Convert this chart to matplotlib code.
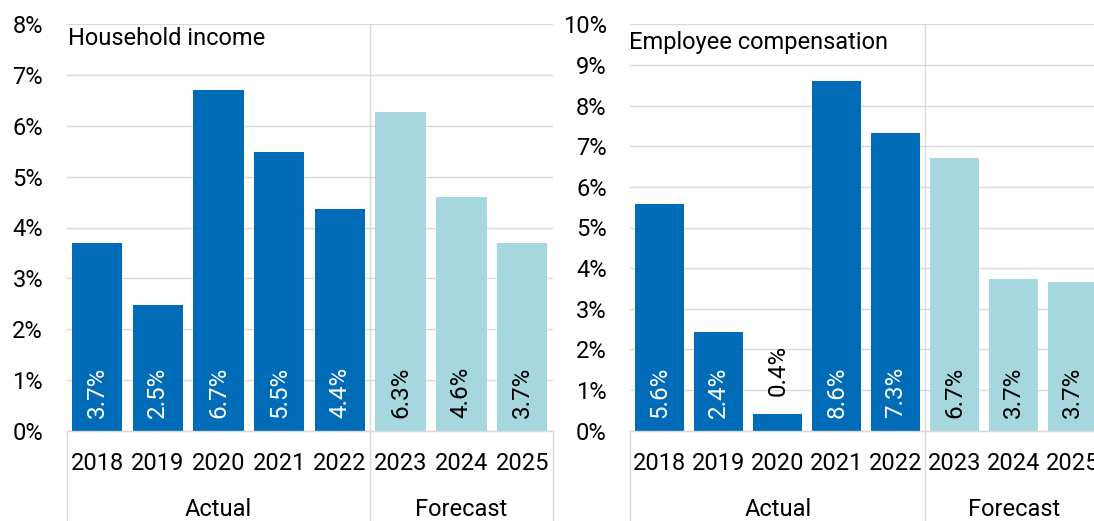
import matplotlib
matplotlib.use("Agg")
import matplotlib.pyplot as plt
from matplotlib.transforms import blended_transform_factory

plt.rcParams["font.family"] = ["Roboto", "DejaVu Sans"]

# ---- data -------------------------------------------------------------
years = ["2018", "2019", "2020", "2021", "2022", "2023", "2024", "2025"]
groups = ["Actual", "Forecast"]
group_sizes = [5, 3]

household_income = [3.69, 2.48, 6.71, 5.49, 4.36, 6.27, 4.60, 3.69]
employee_compensation = [5.58, 2.44, 0.42, 8.61, 7.33, 6.70, 3.74, 3.66]

# ---- style ------------------------------------------------------------
DARK = "#006CB7"
LIGHT = "#A6D7DE"
GRID = "#D9D9D9"
FS = 17.0
LABEL_FS = 17.4

W, H = 1094, 521
fig = plt.figure(figsize=(W / 100, H / 100), dpi=100)

zero_px = 430.7
top_px = 24.3
ax_h_px = zero_px - top_px
bottom_frac = (H - zero_px) / H
height_frac = ax_h_px / H
below_frac = -(H - zero_px) / ax_h_px  # axes-y of the figure's bottom edge


def to_axes_y(px):
    return (zero_px - px) / ax_h_px


def draw_panel(ax, values, ymax, title, title_x, title_base_px):
    n = len(values)
    x = list(range(n))
    n_actual = group_sizes[0]
    colors = [DARK if i < n_actual else LIGHT for i in x]

    ax.bar(x, values, width=0.83, color=colors, zorder=2)
    ax.set_xlim(-0.5, n - 0.5)
    ax.set_ylim(0, ymax)

    ax.set_yticks(range(0, ymax + 1))
    ax.set_yticklabels([f"{t}%" for t in range(0, ymax + 1)])
    ax.tick_params(axis="y", length=0, pad=17, labelsize=FS, labelcolor="black")
    ax.set_xticks([])
    ax.yaxis.grid(True, color=GRID, linewidth=1.0, zorder=0)
    ax.set_axisbelow(True)
    for side in ("left", "right", "top"):
        ax.spines[side].set_visible(False)
    ax.spines["bottom"].set_color(GRID)
    ax.spines["bottom"].set_linewidth(1.0)

    trans = blended_transform_factory(ax.transData, ax.transAxes)

    # value labels, rotated, at the base of each bar (above short bars)
    for i, v in enumerate(values):
        txt = f"{v:.1f}%"
        if v < 1.5:
            ax.annotate(txt, (i, v), xytext=(0, 18), textcoords="offset pixels",
                        rotation=90, ha="center", va="bottom",
                        fontsize=LABEL_FS, color="black", zorder=3)
        else:
            ax.annotate(txt, (i, 0), xytext=(0, 13), textcoords="offset pixels",
                        rotation=90, ha="center", va="bottom",
                        fontsize=LABEL_FS,
                        color="white" if colors[i] == DARK else "black",
                        zorder=3)

    # category labels: years, then groups
    for i, yr in enumerate(years):
        ax.text(i, to_axes_y(470), yr, transform=trans, ha="center",
                va="baseline", fontsize=FS, color="black", clip_on=False)

    start = -0.5
    bounds = [start]
    for g, size in zip(groups, group_sizes):
        end = start + size
        ax.text((start + end) / 2, to_axes_y(515.5), g, transform=trans,
                ha="center", va="baseline", fontsize=FS, color="black",
                clip_on=False)
        bounds.append(end)
        start = end

    # boxes around the category labels; the group divider runs full height
    for k, b in enumerate(bounds):
        top = 1.0 if 0 < k < len(bounds) - 1 else 0.0
        ax.plot([b, b], [below_frac, top], transform=trans, color=GRID,
                linewidth=1.0, clip_on=False, zorder=1)

    ax.text(title_x, to_axes_y(title_base_px), title, transform=ax.transAxes,
            ha="left", va="baseline", fontsize=FS, color="black", zorder=4)


# left panel
ax1 = fig.add_axes([66.7 / W, bottom_frac, 485.8 / W, height_frac])
draw_panel(ax1, household_income, 8, "Household income", 0.003, 45)

# right panel (runs past the right edge of the canvas)
ax2 = fig.add_axes([630.3 / W, bottom_frac, 472.0 / W, height_frac])
draw_panel(ax2, employee_compensation, 10, "Employee compensation", -0.003, 49.1)

fig.savefig("out.png", dpi=100)
